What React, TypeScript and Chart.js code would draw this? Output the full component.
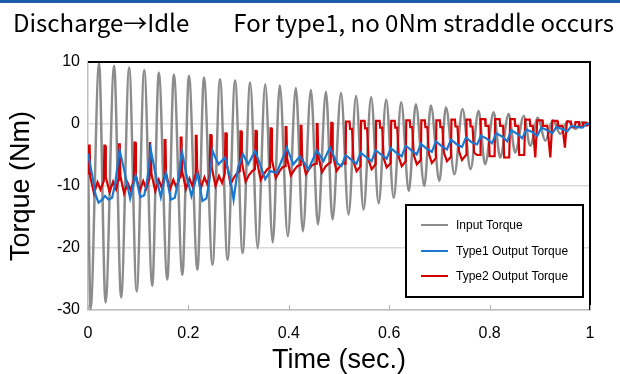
import React, { useEffect, useRef } from "react";
import { Chart, registerables } from "chart.js";

Chart.register(...registerables);

const titleLeft = "Discharge→Idle";
const titleRight = "For type1, no 0Nm straddle occurs";
const xAxisTitle = "Time (sec.)";
const yAxisTitle = "Torque (Nm)";
const seriesLabels = ["Input Torque", "Type1 Output Torque", "Type2 Output Torque"];
const seriesColors = ["#8c8c8c", "#1a78d0", "#d40000"];

const xTicks = [0, 0.2, 0.4, 0.6, 0.8, 1];
const xTickLabels = ["0", "0.2", "0.4", "0.6", "0.8", "1"];
const yTicks = [-30, -20, -10, 0, 10];
const yTickLabels = ["-30", "-20", "-10", "0", "10"];

// Input torque: peaks / troughs
const inputTime = [0, 0.005, 0.022, 0.035, 0.052, 0.066, 0.082, 0.097, 0.112, 0.128, 0.141, 0.158, 0.171, 0.188, 0.201, 0.218, 0.231, 0.248, 0.263, 0.278, 0.293, 0.308, 0.323, 0.338, 0.353, 0.368, 0.382, 0.398, 0.414, 0.428, 0.444, 0.458, 0.474, 0.487, 0.504, 0.519, 0.534, 0.549, 0.564, 0.579, 0.594, 0.609, 0.624, 0.639, 0.653, 0.670, 0.683, 0.700, 0.713, 0.730, 0.746, 0.762, 0.778, 0.791, 0.808, 0.821, 0.838, 0.851, 0.868, 0.881, 0.896, 0.911, 0.926, 0.941, 0.956, 0.971, 0.984, 1.0];
const inputTorque = [-5, -29.9, 9.8, -28.8, 9.4, -28.0, 9.1, -27.0, 8.7, -26.1, 8.3, -25.1, 8.0, -24.3, 7.8, -23.5, 7.5, -22.7, 7.2, -21.9, 7.0, -20.8, 6.7, -20.0, 6.4, -19.1, 6.2, -18.1, 5.8, -17.3, 5.5, -16.2, 5.2, -15.4, 5.0, -14.6, 4.5, -13.8, 4.3, -12.8, 3.9, -11.9, 3.5, -10.8, 3.2, -10.0, 3.0, -9.2, 2.7, -8.1, 2.4, -7.3, 2.1, -6.5, 1.9, -5.4, 1.6, -4.6, 1.3, -3.5, 1.0, -2.7, 0.6, -1.6, 0.5, -0.8, 0.3, 0.0];

// Type1 output torque
const type1Time = [0, 0.008, 0.015, 0.021, 0.028, 0.034, 0.041, 0.048, 0.054, 0.063, 0.071, 0.084, 0.095, 0.104, 0.112, 0.118, 0.125, 0.133, 0.145, 0.155, 0.165, 0.173, 0.180, 0.187, 0.195, 0.206, 0.218, 0.228, 0.236, 0.242, 0.248,
  0.254, 0.260, 0.273, 0.283, 0.290, 0.299, 0.309, 0.319, 0.333, 0.353, 0.363, 0.376, 0.396, 0.409, 0.422, 0.439, 0.456, 0.469, 0.482, 0.496,
  0.505, 0.513, 0.525, 0.535, 0.543, 0.555, 0.565, 0.573, 0.585, 0.595, 0.603, 0.615, 0.625, 0.633, 0.645, 0.655, 0.663, 0.675, 0.685, 0.693, 0.705, 0.715, 0.723, 0.735, 0.745, 0.753, 0.765,
  0.775, 0.783, 0.795, 0.805, 0.813, 0.825, 0.835, 0.843, 0.855, 0.865, 0.873, 0.885, 0.895, 0.903, 0.915, 0.925, 0.933, 0.945, 0.955, 0.963, 0.975, 0.985, 0.993, 1.0];
const type1Torque = [-4.8, -8.1, -11.4, -12.7, -12.2, -11.6, -12.2, -11.9, -9.7, -4.2, -7.0, -12.0, -8.3, -11.8, -11.5, -9.0, -4.1, -7.5, -11.8, -7.9, -12.2, -11.9, -9.0, -4.3, -7.8, -11.6, -8.0, -12.4, -12.0, -9.0, -4.3,
  -5.5, -6.5, -5.4, -8.7, -12.2, -7.0, -4.9, -6.5, -4.3, -8.9, -7.6, -7.9, -3.8, -6.5, -5.2, -7.3, -4.3, -6.0, -3.8, -6.3,
  -6.8, -5.0, -5.8, -6.4, -4.6, -5.4, -6.0, -4.2, -5.0, -5.6, -3.9, -4.7, -5.2, -3.5, -4.3, -4.9, -3.2, -4.0, -4.5, -2.8, -3.6, -4.1, -2.5, -3.3, -3.7, -2.2, -3.0,
  -3.3, -1.9, -2.4, -3.1, -1.5, -2.0, -2.8, -1.0, -1.6, -2.3, -0.9, -1.3, -1.9, -0.6, -1.0, -1.5, -0.5, -0.8, -1.2, -0.3, -0.5, -0.6, 0.0, 0.0];

// Type2 output torque
const type2Time = [
  0, 0.0017, 0.0033, 0.0045, 0.012, 0.019, 0.025,
  0.0315, 0.0327, 0.0343, 0.0355, 0.043, 0.050, 0.056,
  0.0605, 0.0617, 0.0633, 0.0645, 0.072, 0.079, 0.085,
  0.0915, 0.0927, 0.0943, 0.0955, 0.103, 0.110, 0.116,
  0.1225, 0.1237, 0.1253, 0.1265, 0.134, 0.141, 0.147,
  0.1515, 0.1527, 0.1543, 0.1555, 0.163, 0.170, 0.176,
  0.1835, 0.1847, 0.1863, 0.1875, 0.195, 0.202, 0.208,
  0.2135, 0.2147, 0.2163, 0.2175, 0.225, 0.232, 0.238,
  0.2425, 0.2437, 0.2453, 0.2465, 0.254, 0.261, 0.267,
  0.2725, 0.2737, 0.2753, 0.2765, 0.284, 0.291, 0.297,
  0.3025, 0.3037, 0.3053, 0.3065, 0.314, 0.321, 0.327,
  0.3325, 0.3337, 0.3353, 0.3365, 0.344, 0.351, 0.357,
  0.3625, 0.3637, 0.3653, 0.3665, 0.374, 0.381, 0.387,
  0.3925, 0.3937, 0.3953, 0.3965, 0.404, 0.411, 0.417,
  0.4225, 0.4237, 0.4253, 0.4265, 0.434, 0.441, 0.447,
  0.4545, 0.4557, 0.4573, 0.4585, 0.466, 0.473, 0.479,
  0.4835, 0.4847, 0.4863, 0.4875, 0.495, 0.502, 0.508,
  0.513, 0.514, 0.521, 0.522, 0.526, 0.529, 0.535,
  0.543, 0.544, 0.551, 0.552, 0.556, 0.559, 0.565,
  0.573, 0.574, 0.581, 0.582, 0.586, 0.589, 0.595,
  0.603, 0.604, 0.611, 0.612, 0.616, 0.619, 0.625,
  0.633, 0.634, 0.641, 0.642, 0.646, 0.649, 0.655,
  0.663, 0.664, 0.671, 0.672, 0.676, 0.679, 0.685,
  0.693, 0.694, 0.701, 0.702, 0.706, 0.709, 0.715,
  0.723, 0.724, 0.731, 0.732, 0.736, 0.739, 0.745,
  0.753, 0.754, 0.761, 0.762, 0.766, 0.769, 0.775,
  0.781, 0.782, 0.791, 0.792, 0.798, 0.800, 0.810,
  0.811, 0.820, 0.821, 0.827, 0.829, 0.839,
  0.841, 0.850, 0.851, 0.857, 0.859, 0.869,
  0.871, 0.880, 0.881, 0.886, 0.891, 0.895,
  0.905, 0.906, 0.915, 0.921, 0.925,
  0.935, 0.936, 0.945, 0.950, 0.954,
  0.962, 0.963, 0.970, 0.971, 0.978, 0.979, 0.985, 0.986, 0.993, 0.994, 1.0,
];
const type2Torque = [
  -8.0, -3.5, -3.5, -8.5, -11.2, -9.4, -10.6,
  -9.2, -3.5, -3.5, -8.6, -11.0, -9.3, -10.5,
  -9.0, -3.3, -3.3, -8.4, -11.2, -9.5, -10.7,
  -9.0, -3.0, -3.0, -8.3, -10.8, -9.2, -10.4,
  -8.8, -2.9, -2.9, -8.1, -10.8, -9.0, -10.3,
  -8.7, -2.6, -2.6, -7.9, -10.6, -9.0, -10.2,
  -8.5, -2.2, -2.2, -7.6, -10.5, -8.8, -10.0,
  -8.3, -1.9, -1.9, -7.3, -10.3, -8.6, -9.8,
  -8.1, -1.8, -1.8, -7.0, -10.0, -8.4, -9.5,
  -8.0, -1.5, -1.5, -6.5, -9.7, -8.6, -7.9,
  -7.6, -1.2, -1.2, -6.2, -9.3, -8.2, -7.6,
  -7.3, -1.1, -1.1, -6.0, -9.0, -8.0, -7.3,
  -7.0, -0.7, -0.7, -5.8, -8.7, -7.7, -7.0,
  -6.8, -0.5, -0.5, -5.5, -8.3, -7.4, -6.8,
  -6.6, -0.3, -0.3, -5.3, -8.1, -7.2, -6.6,
  -6.4, 0.0, 0.0, -5.0, -7.8, -6.9, -6.4,
  -6.2, 0.2, 0.2, -4.8, -7.6, -6.8, -6.3,
  -6.4, 0.4, 0.4, -0.8, -0.8, -6.0, -7.6,
  -6.8, 0.5, 0.5, -0.7, -0.7, -5.8, -7.3,
  -6.5, 0.5, 0.5, -0.6, -0.6, -5.5, -7.0,
  -6.3, 0.5, 0.5, -0.6, -0.6, -5.3, -6.8,
  -6.0, 0.6, 0.6, -0.5, -0.5, -5.0, -6.5,
  -5.8, 0.6, 0.6, -0.5, -0.5, -4.8, -6.3,
  -5.5, 0.6, 0.6, -0.5, -0.5, -4.6, -6.0,
  -5.3, 0.7, 0.7, -0.4, -0.4, -4.4, -5.8,
  -5.0, 0.7, 0.7, -0.4, -0.4, -4.6, -5.0,
  -5.0, 0.8, 0.8, -0.3, -0.3, -5.2, -5.2,
  0.8, 0.8, -0.3, -0.3, -5.4, -5.4,
  0.8, 0.8, -0.3, -0.3, -5.0, -5.0,
  0.7, 0.7, -0.3, -0.3, -5.4, 0.6,
  0.6, -0.3, -0.3, -5.4, 0.5,
  0.5, -0.3, -0.3, -3.8, 0.4,
  0.4, -0.5, -0.5, 0.3, 0.3, -0.4, -0.4, 0.2, 0.2, -0.2, 0.0,
];

const FONT = '"Liberation Sans", Arial, sans-serif';
const JP_FONT = '"Noto Sans CJK JP", "Noto Sans", sans-serif';

function pts(xs: number[], ys: number[]) {
  return xs.map((x, i) => ({ x, y: ys[i] }));
}

const decorPlugin = {
  id: "decor",
  beforeDraw(chart: any) {
    const { ctx, width, height } = chart;
    ctx.save();
    ctx.fillStyle = "#ffffff";
    ctx.fillRect(0, 0, width, height);
    ctx.restore();
  },
  afterDraw(chart: any) {
    const { ctx, chartArea: a, width } = chart;
    ctx.save();
    // top band
    ctx.fillStyle = "#1f5ca8";
    ctx.fillRect(0, 0, width, 3);
    // headings
    ctx.fillStyle = "#000";
    ctx.font = `24px ${JP_FONT}`;
    ctx.textBaseline = "alphabetic";
    ctx.textAlign = "left";
    ctx.fillText(titleLeft, 13, 32);
    ctx.textAlign = "right";
    ctx.fillText(titleRight, 614, 32);
    // top & right border
    ctx.strokeStyle = "#000";
    ctx.lineWidth = 2;
    ctx.beginPath();
    ctx.moveTo(a.left, a.top);
    ctx.lineTo(a.right, a.top);
    ctx.lineTo(a.right, a.bottom);
    ctx.stroke();
    // inward x tick marks
    const xs = chart.scales.x;
    ctx.strokeStyle = "#b0b0b0";
    ctx.lineWidth = 1;
    xTicks.forEach((v) => {
      const px = Math.round(xs.getPixelForValue(v)) + 0.5;
      ctx.beginPath();
      ctx.moveTo(px, a.bottom);
      ctx.lineTo(px, a.bottom - 5);
      ctx.stroke();
    });
    // legend box
    const bx = a.right - 184;
    const by = a.bottom - 105;
    const bw = 177;
    const bh = 92;
    ctx.fillStyle = "#fff";
    ctx.fillRect(bx, by, bw, bh);
    ctx.strokeStyle = "#000";
    ctx.lineWidth = 2;
    ctx.strokeRect(bx, by, bw, bh);
    ctx.font = `12px ${FONT}`;
    ctx.textAlign = "left";
    ctx.textBaseline = "middle";
    const rows = [20, 46, 71];
    chart.data.datasets.forEach((ds: any, i: number) => {
      const y = by + rows[i];
      ctx.strokeStyle = ds.borderColor;
      ctx.lineWidth = 2;
      ctx.beginPath();
      ctx.moveTo(bx + 15, y);
      ctx.lineTo(bx + 42, y);
      ctx.stroke();
      ctx.fillStyle = "#000";
      ctx.fillText(ds.label, bx + 50, y + 1);
    });
    ctx.restore();
  },
};

export default function App() {
  const ref = useRef<HTMLCanvasElement>(null);
  useEffect(() => {
    document.body.style.margin = "0";
    const canvas = ref.current!;
    const chart = new Chart(canvas, {
      type: "line",
      data: {
        datasets: [
          {
            label: seriesLabels[0],
            data: pts(inputTime, inputTorque),
            borderColor: seriesColors[0],
            borderWidth: 2.5,
            pointRadius: 0,
            cubicInterpolationMode: "monotone",
            order: 3,
          },
          {
            label: seriesLabels[1],
            data: pts(type1Time, type1Torque),
            borderColor: seriesColors[1],
            borderWidth: 2.2,
            pointRadius: 0,
            tension: 0,
            order: 1,
          },
          {
            label: seriesLabels[2],
            data: pts(type2Time, type2Torque),
            borderColor: seriesColors[2],
            borderWidth: 2.2,
            pointRadius: 0,
            tension: 0,
            order: 2,
          },
        ],
      },
      options: {
        animation: false,
        responsive: false,
        devicePixelRatio: 1,
        layout: { padding: { top: 62, right: 30, left: 0, bottom: 0 } },
        plugins: { legend: { display: false }, tooltip: { enabled: false } },
        scales: {
          x: {
            type: "linear",
            min: 0,
            max: 1,
            afterFit: (s: any) => {
              s.height = 64;
            },
            afterBuildTicks: (s: any) => {
              s.ticks = xTicks.map((v) => ({ value: v }));
            },
            ticks: {
              autoSkip: false,
              maxRotation: 0,
              padding: 14,
              color: "#000",
              font: { family: FONT, size: 16 },
              callback: (_v: any, i: number) => xTickLabels[i],
            },
            grid: { display: false, drawTicks: false },
            border: { display: true, color: "#bfbfbf", width: 1.5 },
            title: {
              display: true,
              text: xAxisTitle,
              color: "#000",
              font: { family: FONT, size: 27, lineHeight: 1 },
              padding: { top: 0, bottom: 0 },
            },
          },
          y: {
            type: "linear",
            min: -30,
            max: 10,
            afterFit: (s: any) => {
              s.width = 88;
            },
            afterBuildTicks: (s: any) => {
              s.ticks = yTicks.map((v) => ({ value: v }));
            },
            ticks: {
              autoSkip: false,
              padding: 8,
              color: "#000",
              font: { family: FONT, size: 16 },
              callback: (_v: any, i: number) => yTickLabels[i],
            },
            grid: { color: "#d9d9d9", lineWidth: 1.5, drawTicks: false },
            border: { display: true, color: "#bfbfbf", width: 1.5 },
            title: {
              display: true,
              text: yAxisTitle,
              color: "#000",
              font: { family: FONT, size: 27, lineHeight: 1 },
              padding: { top: 8, bottom: 0 },
            },
          },
        },
      },
      plugins: [decorPlugin],
    });
    return () => chart.destroy();
  }, []);
  return (
    <div style={{ width: 620, height: 374, position: "relative" }}>
      <canvas ref={ref} width={620} height={374} style={{ display: "block", width: 620, height: 374 }} />
    </div>
  );
}
